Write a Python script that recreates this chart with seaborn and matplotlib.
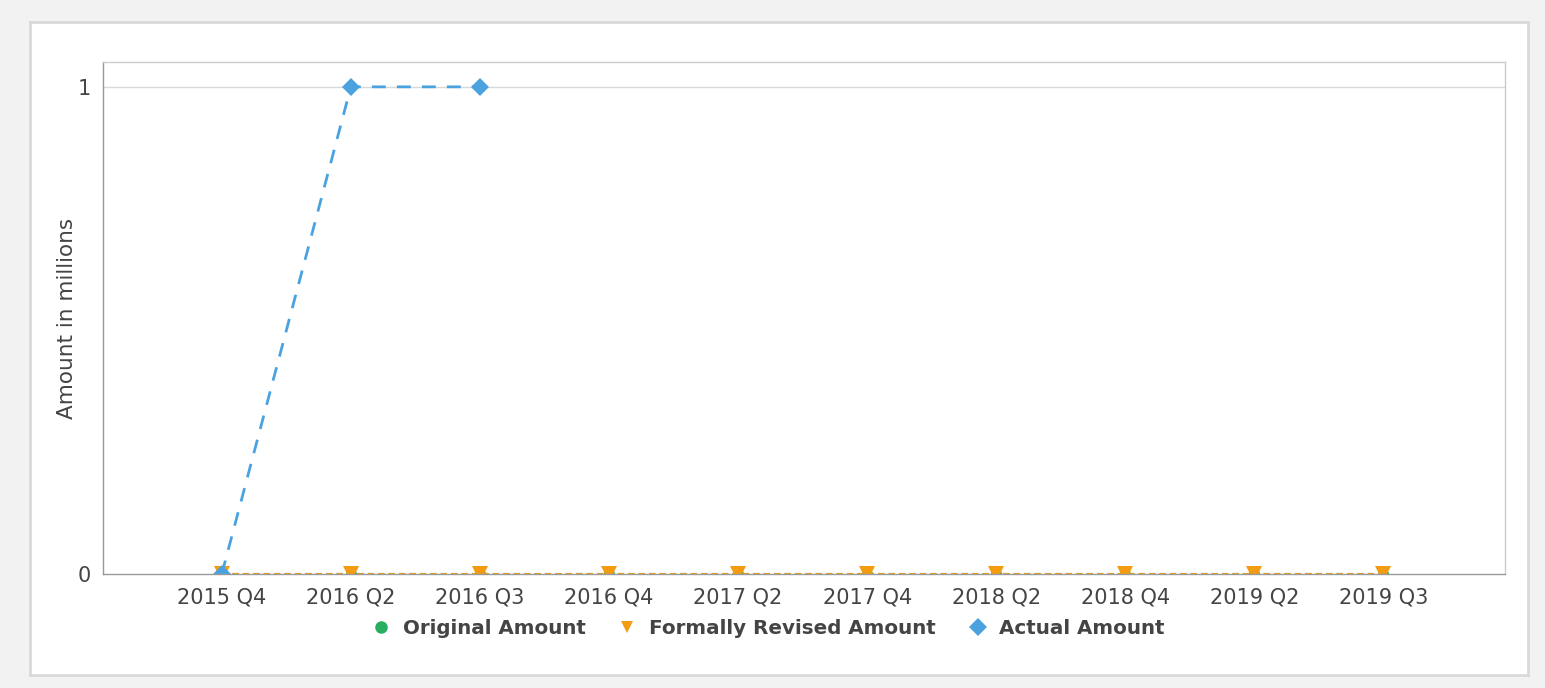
import pandas as pd
import numpy as np
import matplotlib
matplotlib.use("Agg")
import matplotlib.pyplot as plt
from matplotlib.lines import Line2D
import seaborn as sns

quarters = ['2015 Q4', '2016 Q2', '2016 Q3', '2016 Q4', '2017 Q2',
            '2017 Q4', '2018 Q2', '2018 Q4', '2019 Q2', '2019 Q3']
original_amount = [0, 0, 0, 0, 0, 0, 0, 0, 0, 0]
revised_amount = [0, 0, 0, 0, 0, 0, 0, 0, 0, 0]
actual_amount = [0, 1, 1, np.nan, np.nan, np.nan, np.nan, np.nan, np.nan, np.nan]

series_names = ['Original Amount', 'Formally Revised Amount', 'Actual Amount']
colors = {'Original Amount': '#27ae60', 'Formally Revised Amount': '#f39c12', 'Actual Amount': '#4aa3df'}
markers = {'Original Amount': 'o', 'Formally Revised Amount': 'v', 'Actual Amount': 'D'}

df = pd.DataFrame({
    'quarter': quarters * 3,
    'series': [s for s in series_names for _ in quarters],
    'amount': original_amount + revised_amount + actual_amount,
})

sns.set_style("white")
plt.rcParams['font.family'] = ['DejaVu Sans']

fig = plt.figure(figsize=(15.45, 6.88), dpi=100)
fig.patch.set_facecolor('#f2f2f2')

# white card behind the chart
bg = fig.add_axes([0.0194, 0.019, 0.9696, 0.949], zorder=-5)
bg.set_xticks([])
bg.set_yticks([])
bg.set_facecolor('white')
for sp in bg.spines.values():
    sp.set_color('#d9d9d9')
    sp.set_linewidth(2)

ax = fig.add_axes([0.0667, 0.1657, 0.9073, 0.7442])
ax.set_facecolor('white')

styles = {
    'Original Amount': dict(lw=1.5, ls=(0, (3, 2)), ms=8),
    'Formally Revised Amount': dict(lw=1.5, ls=(0, (3, 2)), ms=11),
    'Actual Amount': dict(lw=2.0, ls=(0, (5, 4)), ms=9.5),
}
for name in series_names:
    sub = df[df['series'] == name].dropna()
    st = styles[name]
    sns.lineplot(data=sub, x='quarter', y='amount', ax=ax, color=colors[name],
                 marker=markers[name], markersize=st['ms'], markeredgewidth=0,
                 linewidth=st['lw'], linestyle=st['ls'], legend=False, sort=False)

ax.set_xticks(range(len(quarters)))
ax.set_xticklabels(quarters)
ax.set_xlim(-0.92, len(quarters) - 0.06)
ax.set_ylim(0, 1.051)
ax.set_yticks([0, 1])
ax.set_yticklabels(['0', '1'])
ax.axhline(1, color='#d8d8d8', lw=1, zorder=0)
ax.set_xlabel('')
ax.set_ylabel('Amount in millions', fontsize=15.5, color='#444444', labelpad=0)
ax.tick_params(axis='x', length=4, color='#cccccc', labelsize=15, labelcolor='#444444', pad=6)
ax.tick_params(axis='y', length=0, labelsize=15, labelcolor='#444444', pad=9)
for side in ['top', 'right']:
    ax.spines[side].set_color('#cccccc')
    ax.spines[side].set_linewidth(1)
for side in ['left', 'bottom']:
    ax.spines[side].set_color('#999999')
    ax.spines[side].set_linewidth(1)

handles = [Line2D([], [], ls='none', marker=markers[n], color=colors[n], markersize=9,
                  markeredgewidth=0) for n in series_names]
fig.legend(handles, series_names, loc='center', bbox_to_anchor=(0.497, 0.087), ncol=3,
           frameon=False, handlelength=1.0, handletextpad=0.6, columnspacing=1.6,
           prop={'size': 14.3, 'weight': 'bold'}, labelcolor='#444444')

fig.savefig('out.png', dpi=100, facecolor=fig.get_facecolor())
